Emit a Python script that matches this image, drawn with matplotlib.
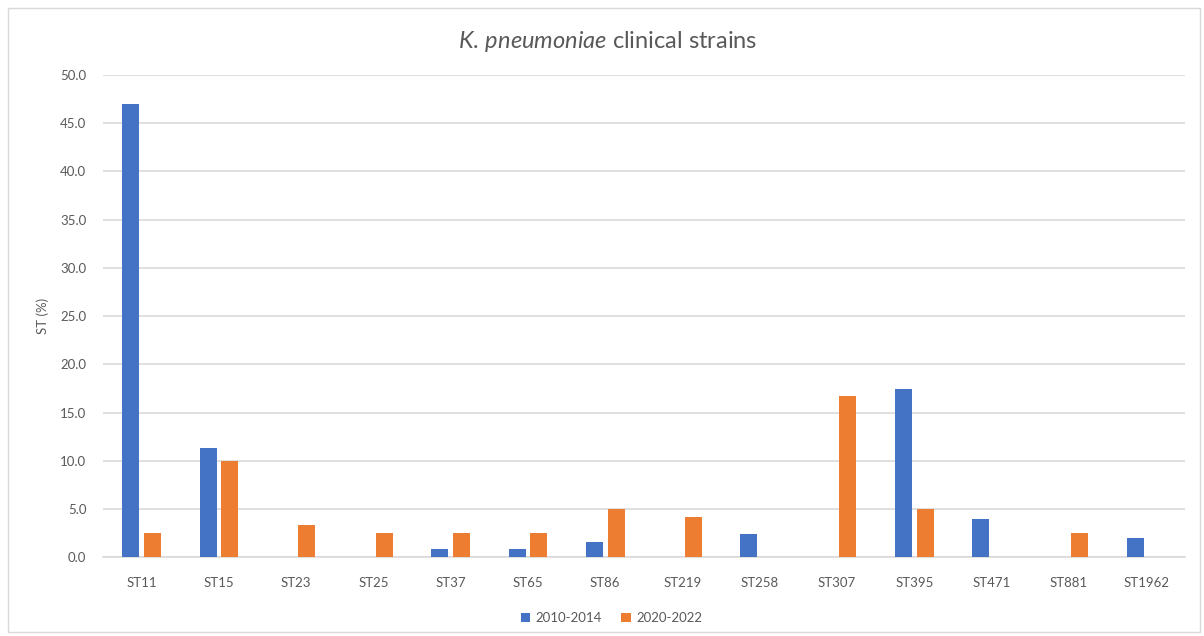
import matplotlib
matplotlib.use("Agg")
import matplotlib.pyplot as plt
import numpy as np
from matplotlib.patches import Rectangle

plt.rcParams["font.family"] = ["Lato", "DejaVu Sans"]
plt.rcParams["mathtext.fontset"] = "custom"
plt.rcParams["mathtext.it"] = "Lato:italic"
plt.rcParams["mathtext.rm"] = "Lato"

categories = ["ST11", "ST15", "ST23", "ST25", "ST37", "ST65", "ST86",
              "ST219", "ST258", "ST307", "ST395", "ST471", "ST881", "ST1962"]
period_2010_2014 = [47.0, 11.3, 0, 0, 0.8, 0.8, 1.6, 0, 2.4, 0, 17.4, 4.0, 0, 2.0]
period_2020_2022 = [2.5, 10.0, 3.3, 2.5, 2.5, 2.5, 5.0, 4.2, 0, 16.7, 5.0, 0, 2.5, 0]

blue = "#4472C4"
orange = "#ED7D31"
grid = "#D9D9D9"
txt = "#595959"

fig = plt.figure(figsize=(12.04, 6.36), dpi=100)
fig.patches.append(Rectangle((8 / 1204, 4 / 636), 1192 / 1204, 624 / 636,
                             transform=fig.transFigure, fill=False,
                             edgecolor="#D9D9D9", linewidth=1))
ax = fig.add_axes([0.0855, 0.124, 0.8985, 0.758])

x = np.arange(len(categories))
w = 0.22
ax.bar(x - 0.14, period_2010_2014, w, color=blue, label="2010-2014", zorder=3)
ax.bar(x + 0.14, period_2020_2022, w, color=orange, label="2020-2022", zorder=3)

ax.set_xlim(-0.5, len(categories) - 0.5)
ax.set_ylim(0, 50)
ax.set_yticks(np.arange(0, 50.1, 5))
ax.set_yticklabels([f"{v:.1f}" for v in np.arange(0, 50.1, 5)])
ax.set_xticks(x)
ax.set_xticklabels(categories)
ax.yaxis.grid(True, color=grid, linewidth=1.2, zorder=0)
ax.set_axisbelow(True)
for s in ["top", "right", "left"]:
    ax.spines[s].set_visible(False)
ax.spines["bottom"].set_color(grid)
ax.spines["bottom"].set_linewidth(1.2)
ax.tick_params(length=0, colors=txt, labelsize=9.5)
ax.tick_params(axis="x", pad=14)
ax.tick_params(axis="y", pad=12)
ax.set_ylabel("ST (%)", color=txt, fontsize=9.5, labelpad=8)

fig.text(0.505, 0.935, r"$\mathit{K.}$$\mathit{\,pneumoniae}$ clinical strains",
         ha="center", va="center", fontsize=17, color=txt)

ax.legend(loc="upper center", bbox_to_anchor=(0.47, -0.09), ncol=2,
          frameon=False, fontsize=9.5, labelcolor=txt, handlelength=0.7,
          handleheight=0.7, columnspacing=1.5, handletextpad=0.4)

fig.savefig("out.png", dpi=100, facecolor="white")
